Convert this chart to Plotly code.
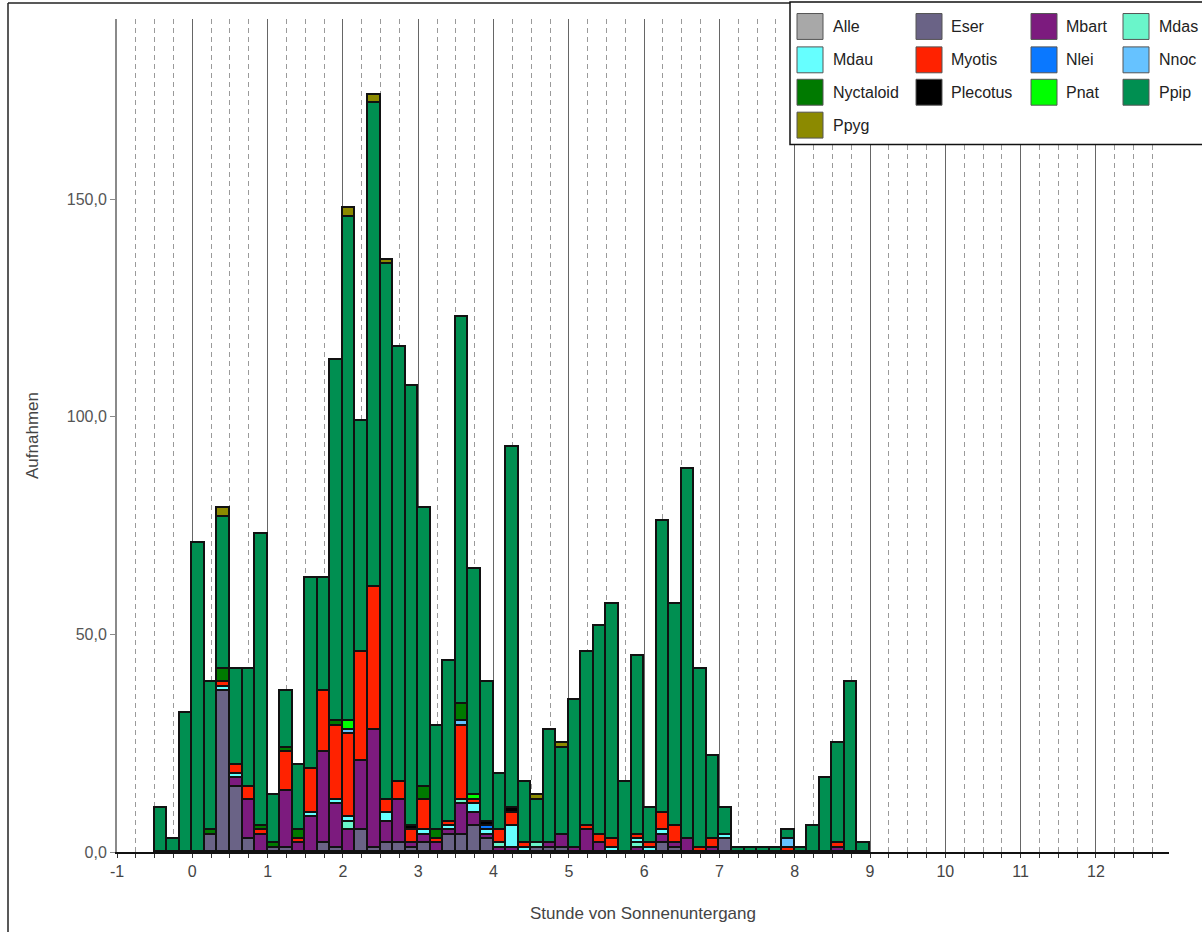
import plotly.graph_objects as go

# ---------------- data (10-minute bins starting at -0.5 h) ----------------
bin_start_h = -0.5
bin_width_h = 1 / 6
species = ["Alle", "Eser", "Mbart", "Mdas", "Mdau", "Myotis", "Nlei", "Nnoc",
           "Nyctaloid", "Plecotus", "Pnat", "Ppip", "Ppyg"]
colors = ["#A8A8A8", "#6A6386", "#7C1B7E", "#6AF5CA", "#66FFFF", "#FF2200", "#0A78FF",
          "#66C2FF", "#007A00", "#000000", "#00FF00", "#008F51", "#8C8A00"]

Alle      = [0]*57
Eser      = [0,0,0,0,4,37,15,3,0,1, 1,0,0,2,1,0,5,1,2,2, 1,2,0,4,4,6,3,0,0,0, 1,1,1,0,0,0,0,0,0,0, 2,1,0,0,0,3,0,0,0,0, 0,0,0,0,0,0,0]
Mbart     = [0,0,0,0,0,0,2,9,4,0, 13,2,8,21,10,5,16,27,5,10, 1,2,2,1,7,3,1,1,1,0, 0,1,3,1,5,2,0,0,1,0, 2,1,3,0,1,0,0,0,0,0, 0,0,0,0,1,0,0]
Mdas      = [0,0,0,0,0,0,0,0,0,0, 0,0,0,0,0,2,0,0,0,0, 0,0,0,0,1,0,0,1,0,0, 1,0,0,0,0,0,0,0,1,0, 0,0,0,0,0,0,0,0,0,0, 0,0,0,0,0,0,0]
Mdau      = [0,0,0,0,0,1,1,0,0,0, 0,0,1,0,1,1,0,0,2,0, 0,1,0,1,0,2,1,0,5,1, 0,0,0,0,0,0,1,0,1,1, 1,0,0,0,0,1,0,0,0,0, 0,0,0,0,0,0,0]
Myotis    = [0,0,0,0,0,1,2,3,1,0, 9,1,10,14,17,19,25,33,3,4, 3,7,1,1,17,1,0,3,3,1, 0,0,0,0,1,2,2,0,1,1, 4,4,0,1,2,0,0,0,0,0, 1,0,0,0,1,0,0]
Nlei      = [0,0,0,0,0,0,0,0,0,0, 0,0,0,0,0,0,0,0,0,0, 0,0,0,0,0,0,1,0,0,0, 0,0,0,0,0,0,0,0,0,0, 0,0,0,0,0,0,0,0,0,0, 0,0,0,0,0,0,0]
Nnoc      = [0,0,0,0,0,0,0,0,0,0, 0,0,0,0,0,1,0,0,0,0, 0,0,0,0,1,0,0,0,0,0, 0,0,0,0,0,0,0,0,0,0, 0,0,0,0,0,0,0,0,0,0, 2,0,0,0,0,0,0]
Nyctaloid = [0,0,0,0,1,3,0,0,1,1, 1,2,0,0,1,0,0,0,0,0, 0,3,2,0,4,0,0,0,0,0, 0,0,0,0,0,0,0,0,0,0, 0,0,0,0,0,0,0,0,0,0, 0,0,0,0,0,0,0]
Plecotus  = [0,0,0,0,0,0,0,0,0,0, 0,0,0,0,0,0,0,0,0,0, 1,0,0,0,0,0,1,0,1,0, 0,0,0,0,0,0,0,0,0,0, 0,0,0,0,0,0,0,0,0,0, 0,0,0,0,0,0,0]
Pnat      = [0,0,0,0,0,0,0,0,0,0, 0,0,0,0,0,2,0,0,0,0, 0,0,0,0,0,1,0,0,0,0, 0,0,0,0,0,0,0,0,0,0, 0,0,0,0,0,0,0,0,0,0, 0,0,0,0,0,0,0]
Ppip      = [10,3,32,71,34,35,22,27,67,11, 13,15,44,26,83,116,53,111,123,100, 101,64,24,37,89,52,32,13,83,14, 10,26,20,34,40,48,54,16,41,8, 67,51,85,41,19,6,1,1,1,1, 2,1,6,17,23,39,2]
Ppyg      = [0,0,0,0,0,2,0,0,0,0, 0,0,0,0,0,2,0,2,1,0, 0,0,0,0,0,0,0,0,0,0, 1,0,1,0,0,0,0,0,0,0, 0,0,0,0,0,0,0,0,0,0, 0,0,0,0,0,0,0]

series = [Alle, Eser, Mbart, Mdas, Mdau, Myotis, Nlei, Nnoc, Nyctaloid, Plecotus, Pnat, Ppip, Ppyg]
x_tick_vals = list(range(-1, 13))
x_tick_text = [str(v) for v in x_tick_vals]
y_tick_vals = [0, 50, 100, 150]

n_bins = len(Ppip)
x_centers = [bin_start_h + (i + 0.5) * bin_width_h for i in range(n_bins)]

fig = go.Figure()
for name, col, vals in zip(species, colors, series):
    fig.add_trace(go.Bar(
        x=x_centers, y=[v if v else None for v in vals], name=name,
        width=bin_width_h, marker=dict(color=col, line=dict(color="#111111", width=1.6)),
    ))

# ---------------- layout geometry ----------------
FW, FH = 1202, 932
L, R, T, B = 117, 33, 19, 77
PW, PH = FW - L - R, FH - T - B


def px(xp):
    return (xp - L) / PW


def py(yp):
    return 1 - (yp - T) / PH


font_family = "Liberation Sans, Arial, Helvetica, sans-serif"

fig.update_layout(
    width=FW, height=FH,
    margin=dict(l=L, r=R, t=T, b=B, pad=0),
    barmode="stack", bargap=0,
    plot_bgcolor="white", paper_bgcolor="white",
    showlegend=False,
    separators=", ",
    font=dict(family=font_family, size=16, color="#444"),
    xaxis=dict(
        range=[-1, 12.97],
        tickmode="array", tickvals=x_tick_vals, ticktext=x_tick_text,
        showline=True, linecolor="#111", linewidth=2,
        ticks="outside", ticklen=4, tickcolor="#333",
        showgrid=True, gridcolor="#666666", gridwidth=1.3,
        zeroline=False,
        tickfont=dict(size=16, color="#444"),
        minor=dict(tickmode="linear", tick0=0, dtick=0.25, ticks="outside", ticklen=4,
                   tickcolor="#333", showgrid=True, gridcolor="#9a9a9a",
                   griddash="5px,4px", gridwidth=1),
        title=dict(text="Stunde von Sonnenuntergang", standoff=28,
                   font=dict(size=17, color="#444")),
    ),
    yaxis=dict(
        range=[0, 191.4],
        tickmode="array", tickvals=y_tick_vals, tickformat=".1f",
        showline=True, linecolor="#8a8a8a", linewidth=2,
        ticks="outside", ticklen=5, tickcolor="#8a8a8a",
        showgrid=False, zeroline=False,
        tickfont=dict(size=16, color="#555"),
        title=dict(text="Aufnahmen", standoff=24, font=dict(size=17, color="#444")),
    ),
)

shapes = []
annotations = []
# outer frame (left and top edges)
shapes.append(dict(type="line", xref="paper", yref="paper", x0=px(8), x1=px(8),
                   y0=py(940), y1=py(3), line=dict(color="#222", width=1.5), layer="above"))
shapes.append(dict(type="line", xref="paper", yref="paper", x0=px(8), x1=px(1210),
                   y0=py(3), y1=py(3), line=dict(color="#222", width=1.5), layer="above"))
# legend box
shapes.append(dict(type="rect", xref="paper", yref="paper", x0=px(790), x1=px(1212),
                   y0=py(145), y1=py(2), fillcolor="white",
                   line=dict(color="#111", width=1.5), layer="above"))

col_sw_x = [797, 916, 1031, 1123]
col_tx_x = [831, 949, 1064, 1157]
row_cy = [26.5, 60, 92.5, 125.5]
for k, (name, col) in enumerate(zip(species, colors)):
    r, c = divmod(k, 4)
    cy = row_cy[r]
    shapes.append(dict(type="rect", xref="paper", yref="paper",
                       x0=px(col_sw_x[c]), x1=px(col_sw_x[c] + 26),
                       y0=py(cy + 13), y1=py(cy - 13), fillcolor=col,
                       line=dict(color="#555", width=1), layer="above"))
    annotations.append(dict(xref="paper", yref="paper", x=px(col_tx_x[c]), y=py(cy),
                            text=name, showarrow=False, xanchor="left", yanchor="middle",
                            font=dict(size=16, color="#222", family=font_family)))

fig.update_layout(shapes=shapes, annotations=annotations)
fig.write_html("out.html")
